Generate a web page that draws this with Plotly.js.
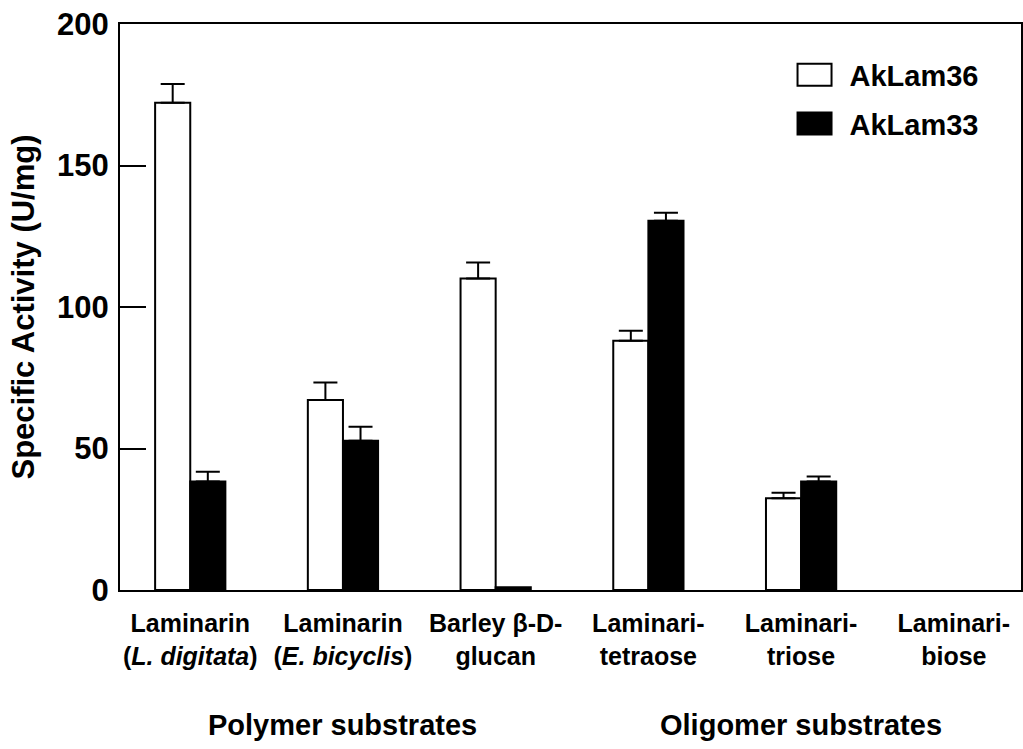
<!DOCTYPE html>
<html>
<head>
<meta charset="utf-8">
<script src="https://cdn.plot.ly/plotly-3.0.1.min.js"></script>
<style>html,body{margin:0;padding:0;background:#fff;}#chart{width:1023px;height:749px;}</style>
</head>
<body>
<div id="chart"></div>
<script>
const categories = [
  "Laminarin<br>(<i>L. digitata</i>)",
  "Laminarin<br>(<i>E. bicyclis</i>)",
  "Barley β-D-<br>glucan",
  "Laminari-<br>tetraose",
  "Laminari-<br>triose",
  "Laminari-<br>biose"
];
const seriesNames = ["AkLam36", "AkLam33"];
const akLam36 = [172.2, 67.1, 110.1, 88.1, 32.4, 0];
const akLam36Err = [6.6, 6.2, 5.6, 3.5, 2.0, NaN];
const akLam33 = [38.3, 52.7, 1.0, 130.5, 38.3, 0];
const akLam33Err = [3.5, 5.0, NaN, 2.8, 1.8, NaN];
const groupLabels = ["Polymer substrates", "Oligomer substrates"];
const groupCenters = [categories[1], categories[4]];
const yTicks = [0, 50, 100, 150, 200];

const FONT = "Liberation Sans, Arial, Helvetica, sans-serif";

function mkTrace(name, y, err, fill, grp) {
  return {
    type: "bar",
    name: name,
    x: categories,
    y: y,
    legendgroup: grp,
    marker: {color: fill, line: {color: "#000", width: y.map(v => v > 0 ? 2 : 0)}},
    error_y: {
      type: "data", array: err, arrayminus: err.map(v => isNaN(v) ? NaN : 0), symmetric: false,
      color: "#000", thickness: 2, width: 12
    }
  };
}

const data = [
  mkTrace(seriesNames[0], akLam36, akLam36Err, "#ffffff", "g1"),
  mkTrace(seriesNames[1], akLam33, akLam33Err, "#000000", "g2")
];

const layout = {
  width: 1023, height: 749,
  margin: {l: 120, r: 2, t: 24, b: 159},
  paper_bgcolor: "#fff", plot_bgcolor: "#fff",
  font: {family: FONT, color: "#000", weight: "bold"},
  barmode: "group", bargap: 0.54, bargroupgap: 0,
  xaxis: {
    type: "category",
    range: [-0.46, 5.44],
    showline: true, linecolor: "#000", linewidth: 2, mirror: true,
    ticks: "", showgrid: false, zeroline: false,
    tickfont: {size: 25, family: FONT, weight: "bold"},
    ticklabelstandoff: 10,
    fixedrange: true
  },
  yaxis: {
    range: [0, 200],
    tickvals: yTicks,
    ticktext: yTicks.map(String),
    showline: true, linecolor: "#000", linewidth: 2, mirror: true,
    ticks: "inside", ticklen: 26, tickwidth: 2, tickcolor: "#000",
    showgrid: false, zeroline: false,
    tickfont: {size: 31, family: FONT, weight: "bold"},
    ticklabelstandoff: 3,
    title: {text: "Specific Activity (U/mg)", font: {size: 31, family: FONT, weight: "bold"}, standoff: 13},
    automargin: false
  },
  showlegend: true,
  legend: {
    x: 0.732, y: 0.955, xanchor: "left", yanchor: "top",
    bgcolor: "rgba(0,0,0,0)", borderwidth: 0,
    font: {size: 29, family: FONT, weight: "bold"},
    traceorder: "grouped", tracegroupgap: 8,
    itemwidth: 60
  },
  annotations: groupLabels.map((t, i) => ({
    text: t, x: groupCenters[i], xref: "x", y: -0.2385, yref: "paper",
    showarrow: false, xanchor: "center", yanchor: "middle",
    font: {size: 29, family: FONT, weight: "bold"}
  }))
};

Plotly.newPlot("chart", data, layout, {displayModeBar: false, staticPlot: true}).then(gd => {
  document.querySelectorAll(".legend .legendpoints path").forEach(p => {
    p.setAttribute("d", "M17,11H-17V-11H17Z");
    p.style.strokeWidth = "2px";
  });
});
</script>
</body>
</html>
